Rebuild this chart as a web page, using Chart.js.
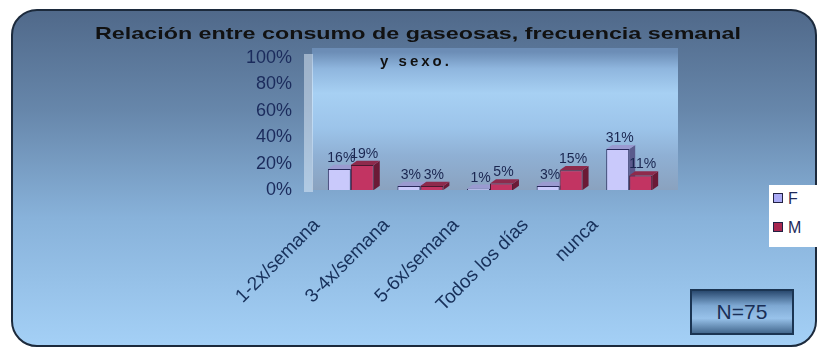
<!DOCTYPE html>
<html>
<head>
<meta charset="utf-8">
<script src="https://cdn.jsdelivr.net/npm/chart.js@4"></script>
<style>
body { margin:0; background:#fff; font-family: Arial, "Liberation Sans", sans-serif; }
#wrap { position:relative; width:828px; height:349px; overflow:hidden; }
#panel { position:absolute; left:11px; top:9px; width:802px; height:334px; border:2px solid #1c2a3c; border-radius:26px;
  background: linear-gradient(180deg, #50698a 0%, #6787ab 30%, #88b2da 62%, #a4d0f6 100%); }
#t1, #t2 { position:absolute; left:0; width:828px; text-align:center; font-weight:bold; color:#111; white-space:nowrap; }
#t1 { top:24px; left:4px; font-size:17px; transform:scaleX(1.37); }
#t2 { top:52px; left:2px; font-size:15px; letter-spacing:3px; }
#chart { position:absolute; left:0; top:0; }
#legend { position:absolute; left:769px; top:185px; width:50px; height:62px; background:#fff; font-size:16px; color:#1e2a5a; }
#legend div { position:absolute; left:4px; }
#legend span { display:inline-block; width:8px; height:8px; border:1px solid #222244; margin-right:5px; vertical-align:1px; }
#nbox { position:absolute; left:690px; top:289px; width:104px; height:46px; border:2px solid #1b3553; box-sizing:border-box;
  background: linear-gradient(180deg, #2a4a70 0%, #7ea8d2 35%, #98c2ea 65%, #44698f 100%);
  font-size:21px; color:#1a2f56; text-align:center; line-height:42px; }
</style>
</head>
<body>
<div id="wrap">
  <div id="panel"></div>
  <canvas id="chart" width="828" height="349"></canvas>
  <div id="t1">Relación entre consumo de gaseosas, frecuencia semanal</div>
  <div id="t2">y sexo.</div>
  <div id="legend">
    <div style="top:5px"><span style="background:#a9a9f5"></span>F</div>
    <div style="top:34px"><span style="background:#a8274f"></span>M</div>
  </div>
  <div id="nbox">N=75</div>
</div>
<script>
const categorias = ["1-2x/semana", "3-4x/semana", "5-6x/semana", "Todos los días", "nunca"];
const femenino = [16, 3, 1, 3, 31];
const masculino = [19, 3, 5, 15, 11];
const ticksY = [0, 20, 40, 60, 80, 100];

const DEPTH = 6;

// back wall, left wall, then the hidden faces of every bar
const backdrop = {
  id: "backdrop",
  beforeDatasetsDraw(chart) {
    const { ctx, chartArea: a } = chart;
    ctx.save();
    const g = ctx.createLinearGradient(0, a.top - 6, 0, a.bottom);
    g.addColorStop(0, "#6c8db6");
    g.addColorStop(0.12, "#8fb6de");
    g.addColorStop(0.3, "#a7d0f3");
    g.addColorStop(0.55, "#9cc4ea");
    g.addColorStop(0.75, "#8fb0d4");
    g.addColorStop(1, "#8aa2bf");
    ctx.fillStyle = g;
    ctx.fillRect(a.left - 4, a.top - 10, a.right - a.left + 18, a.bottom - a.top + 10);
    ctx.fillStyle = "rgba(225,238,250,0.5)";
    ctx.fillRect(a.left - 12, a.top - 4, 9, a.bottom - a.top + 6);

    // side + top faces go under the fronts so the next bar hides them
    chart.data.datasets.forEach((ds, i) => {
      chart.getDatasetMeta(i).data.forEach(bar => {
        const r = bar.x + bar.width / 2, l = bar.x - bar.width / 2;
        const top = bar.y, base = bar.base, dy = DEPTH * 0.7;
        ctx.fillStyle = ds.sideColor;
        ctx.beginPath();
        ctx.moveTo(r, top); ctx.lineTo(r + DEPTH, top - dy);
        ctx.lineTo(r + DEPTH, base - dy); ctx.lineTo(r, base); ctx.closePath(); ctx.fill();
        ctx.fillStyle = ds.topColor;
        ctx.beginPath();
        ctx.moveTo(l, top); ctx.lineTo(l + DEPTH, top - dy);
        ctx.lineTo(r + DEPTH, top - dy); ctx.lineTo(r, top); ctx.closePath(); ctx.fill();
      });
    });
    ctx.restore();
  },
  afterDatasetsDraw(chart) {
    const { ctx } = chart;
    ctx.save();
    ctx.font = "14px Arial";
    ctx.fillStyle = "#1a2650";
    ctx.textAlign = "center";
    ctx.textBaseline = "bottom";
    chart.data.datasets.forEach((ds, i) => {
      chart.getDatasetMeta(i).data.forEach((bar, j) => {
        ctx.fillText(ds.data[j] + "%", bar.x + 2, bar.y - DEPTH + 2);
      });
    });
    ctx.restore();
  }
};

new Chart(document.getElementById("chart"), {
  type: "bar",
  data: {
    labels: categorias,
    datasets: [
      { label: "F", data: femenino, backgroundColor: "#c9c9fb", borderColor: "#27285a", borderWidth: 1,
        sideColor: "#5a5a8c", topColor: "#9a9ad0" },
      { label: "M", data: masculino, backgroundColor: "#c23462", borderColor: "#4a1830", borderWidth: 1,
        sideColor: "#6b1a36", topColor: "#8e2a4c" }
    ]
  },
  options: {
    responsive: false,
    animation: false,
    layout: { padding: { left: 240, right: 164, top: 58, bottom: 0 } },
    plugins: { legend: { display: false }, title: { display: false }, tooltip: { enabled: false } },
    datasets: { bar: { categoryPercentage: 0.66, barPercentage: 1 } },
    scales: {
      x: {
        grid: { display: false }, border: { display: false },
        ticks: { minRotation: 45, maxRotation: 45, labelOffset: -34, padding: 16, color: "#17305a", font: { size: 19, family: "Arial" } },
        afterFit(s) { s.height = 349 - 190; }
      },
      y: {
        min: 0, max: 100,
        grid: { display: false }, border: { display: false },
        afterBuildTicks(s) { s.ticks = ticksY.map(v => ({ value: v })); },
        ticks: { padding: 16, color: "#1b2b5c", font: { size: 18, family: "Arial" }, callback: v => v + "%" },
        afterFit(s) { s.width = 76; }
      }
    }
  },
  plugins: [backdrop]
});
</script>
</body>
</html>
